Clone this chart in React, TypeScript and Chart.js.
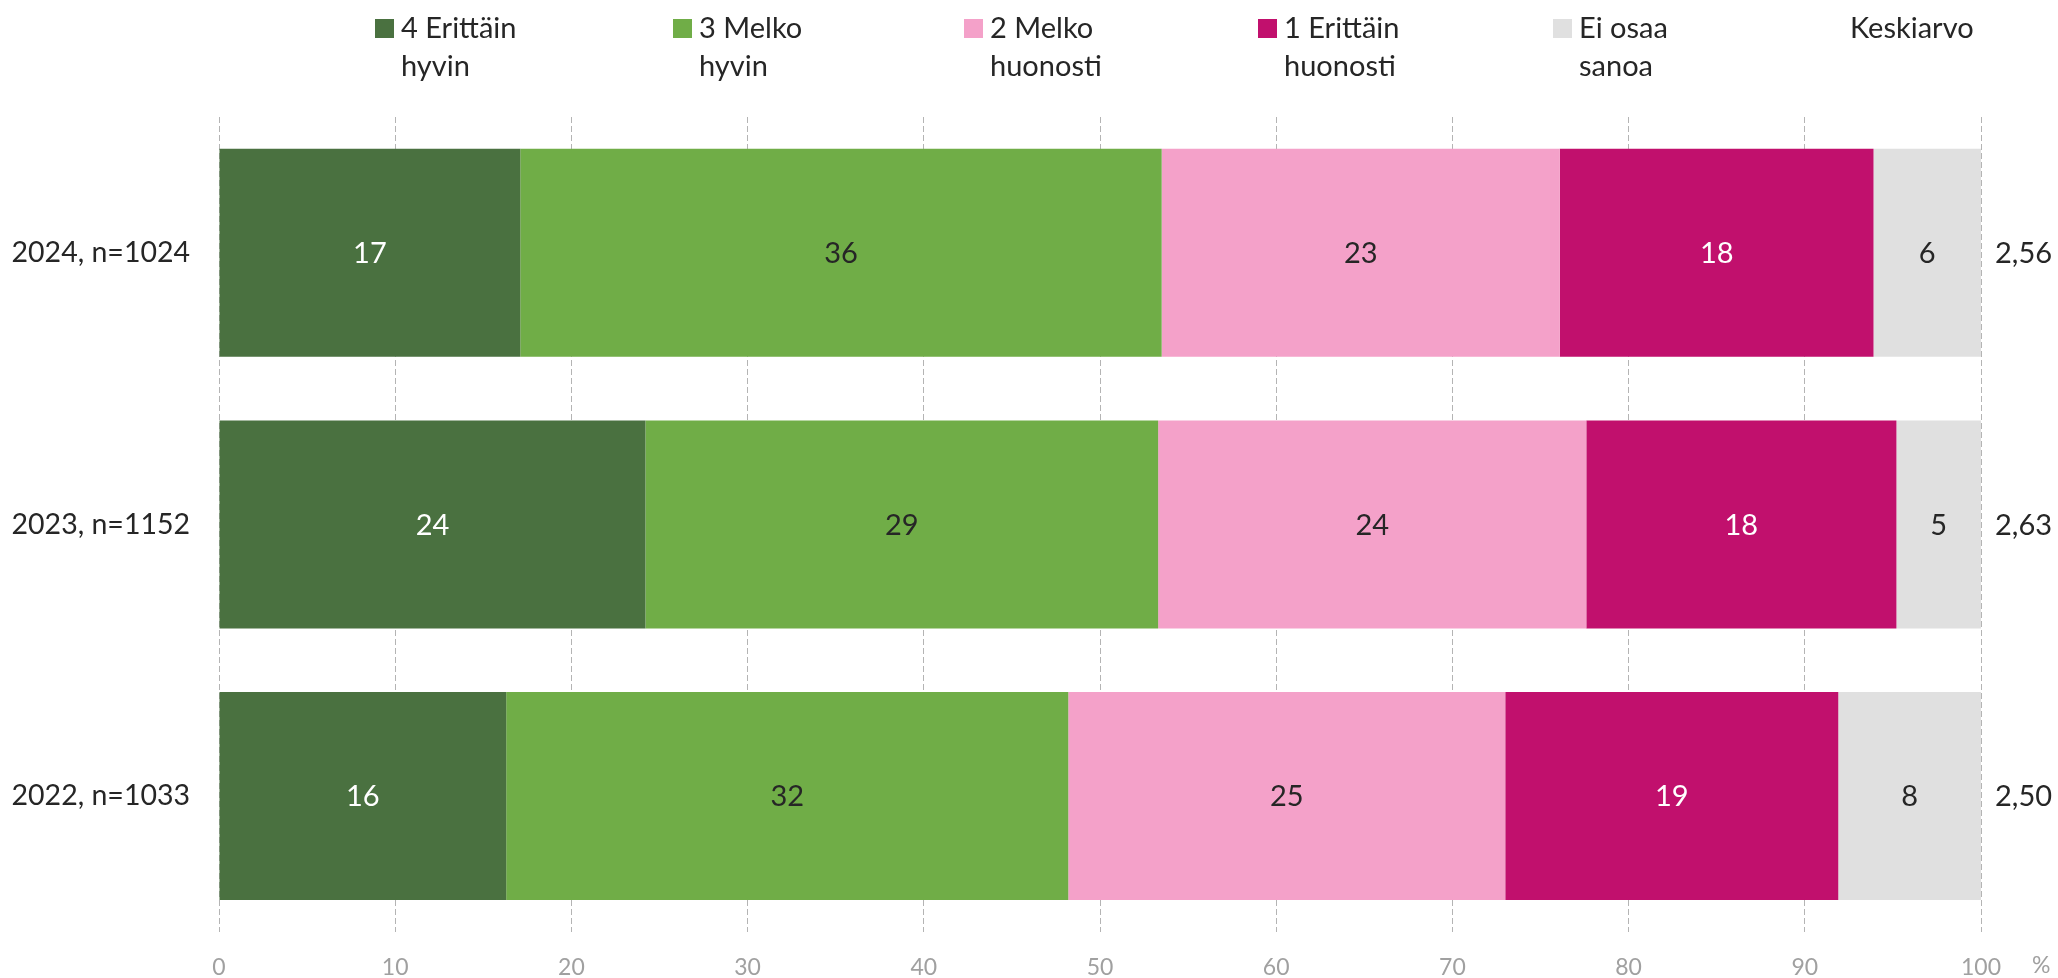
import React, { useEffect, useRef } from "react";
import { Chart, registerables } from "chart.js";

Chart.register(...registerables);

const categories = ["2024, n=1024", "2023, n=1152", "2022, n=1033"];
const legendLines = [
  ["4 Erittäin", "hyvin"],
  ["3 Melko", "hyvin"],
  ["2 Melko", "huonosti"],
  ["1 Erittäin", "huonosti"],
  ["Ei osaa", "sanoa"],
];
const veryWell = [17.1, 24.2, 16.3];
const fairlyWell = [36.4, 29.1, 31.9];
const fairlyPoorly = [22.6, 24.3, 24.8];
const veryPoorly = [17.8, 17.6, 18.9];
const dontKnow = [6.1, 4.8, 8.1];
const means = ["2,56", "2,63", "2,50"];
const meanTitle = "Keskiarvo";
const unitLabel = "%";

const colors = ["#4A7140", "#70AD47", "#F4A1C9", "#C1106D", "#E0E0E0"];
const labelColors = ["#FFFFFF", "#262626", "#262626", "#FFFFFF", "#262626"];
const legendX = [375, 673, 964, 1258, 1553];
const FONT = "Lato, 'Open Sans', sans-serif";
const TEXT = "#262626";

const overlayPlugin = {
  id: "overlay",
  afterDatasetsDraw(chart: any) {
    const ctx = chart.ctx;
    const area = chart.chartArea;
    ctx.save();
    // value labels
    ctx.font = `29px ${FONT}`;
    ctx.textAlign = "center";
    ctx.textBaseline = "middle";
    chart.data.datasets.forEach((ds: any, di: number) => {
      const meta = chart.getDatasetMeta(di);
      meta.data.forEach((el: any, i: number) => {
        const v = ds.data[i];
        ctx.fillStyle = labelColors[di];
        ctx.fillText(String(Math.round(v)), (el.x + el.base) / 2, el.y + 1);
      });
    });
    // means
    ctx.textAlign = "left";
    ctx.fillStyle = TEXT;
    const meta0 = chart.getDatasetMeta(0);
    meta0.data.forEach((el: any, i: number) => {
      ctx.fillText(means[i], area.right + 14, el.y + 1);
    });
    // legend
    ctx.textBaseline = "alphabetic";
    legendLines.forEach((lines, i) => {
      const x = legendX[i];
      ctx.fillStyle = colors[i];
      ctx.fillRect(x, 19, 19, 19);
      ctx.fillStyle = TEXT;
      ctx.fillText(lines[0], x + 26, 38);
      ctx.fillText(lines[1], x + 26, 76);
    });
    ctx.fillText(meanTitle, 1850, 38);
    // unit label
    ctx.font = `23px ${FONT}`;
    ctx.fillStyle = "#A0A0A0";
    ctx.textBaseline = "middle";
    ctx.fillText(unitLabel, 2032, 966);
    ctx.restore();
  },
};

export default function App() {
  const ref = useRef<HTMLCanvasElement | null>(null);
  useEffect(() => {
    if (!ref.current) return;
    const data = [veryWell, fairlyWell, fairlyPoorly, veryPoorly, dontKnow];
    const chart = new Chart(ref.current, {
      type: "bar",
      data: {
        labels: categories,
        datasets: data.map((d, i) => ({
          label: legendLines[i].join(" "),
          data: d,
          backgroundColor: colors[i],
          borderWidth: 0,
          barPercentage: 0.766,
          categoryPercentage: 1,
        })),
      },
      options: {
        indexAxis: "y",
        animation: false,
        responsive: true,
        maintainAspectRatio: false,
        layout: { padding: { top: 117, right: 77, left: 0, bottom: 0 } },
        plugins: {
          legend: { display: false },
          tooltip: { enabled: false },
          title: { display: false },
        },
        scales: {
          x: {
            stacked: true,
            min: 0,
            max: 100,
            ticks: {
              stepSize: 10,
              color: "#A0A0A0",
              font: { family: FONT, size: 23 },
              padding: 22,
            },
            grid: {
              color: "#B4B4B4",
              lineWidth: 1,
              drawTicks: false,
            },
            border: { display: false, dash: [6, 3] },
            afterFit: (axis: any) => {
              axis.height = 46;
            },
          },
          y: {
            stacked: true,
            ticks: {
              color: TEXT,
              font: { family: FONT, size: 28.5 },
              padding: 29,
            },
            grid: { display: false, drawTicks: false },
            border: { display: false },
            afterFit: (axis: any) => {
              axis.width = 219;
            },
          },
        },
      },
      plugins: [overlayPlugin],
    });
    return () => chart.destroy();
  }, []);
  return (
    <div style={{ position: "fixed", left: 0, top: 0, width: "2058px", height: "978px", background: "#fff" }}>
      <canvas ref={ref} />
    </div>
  );
}
